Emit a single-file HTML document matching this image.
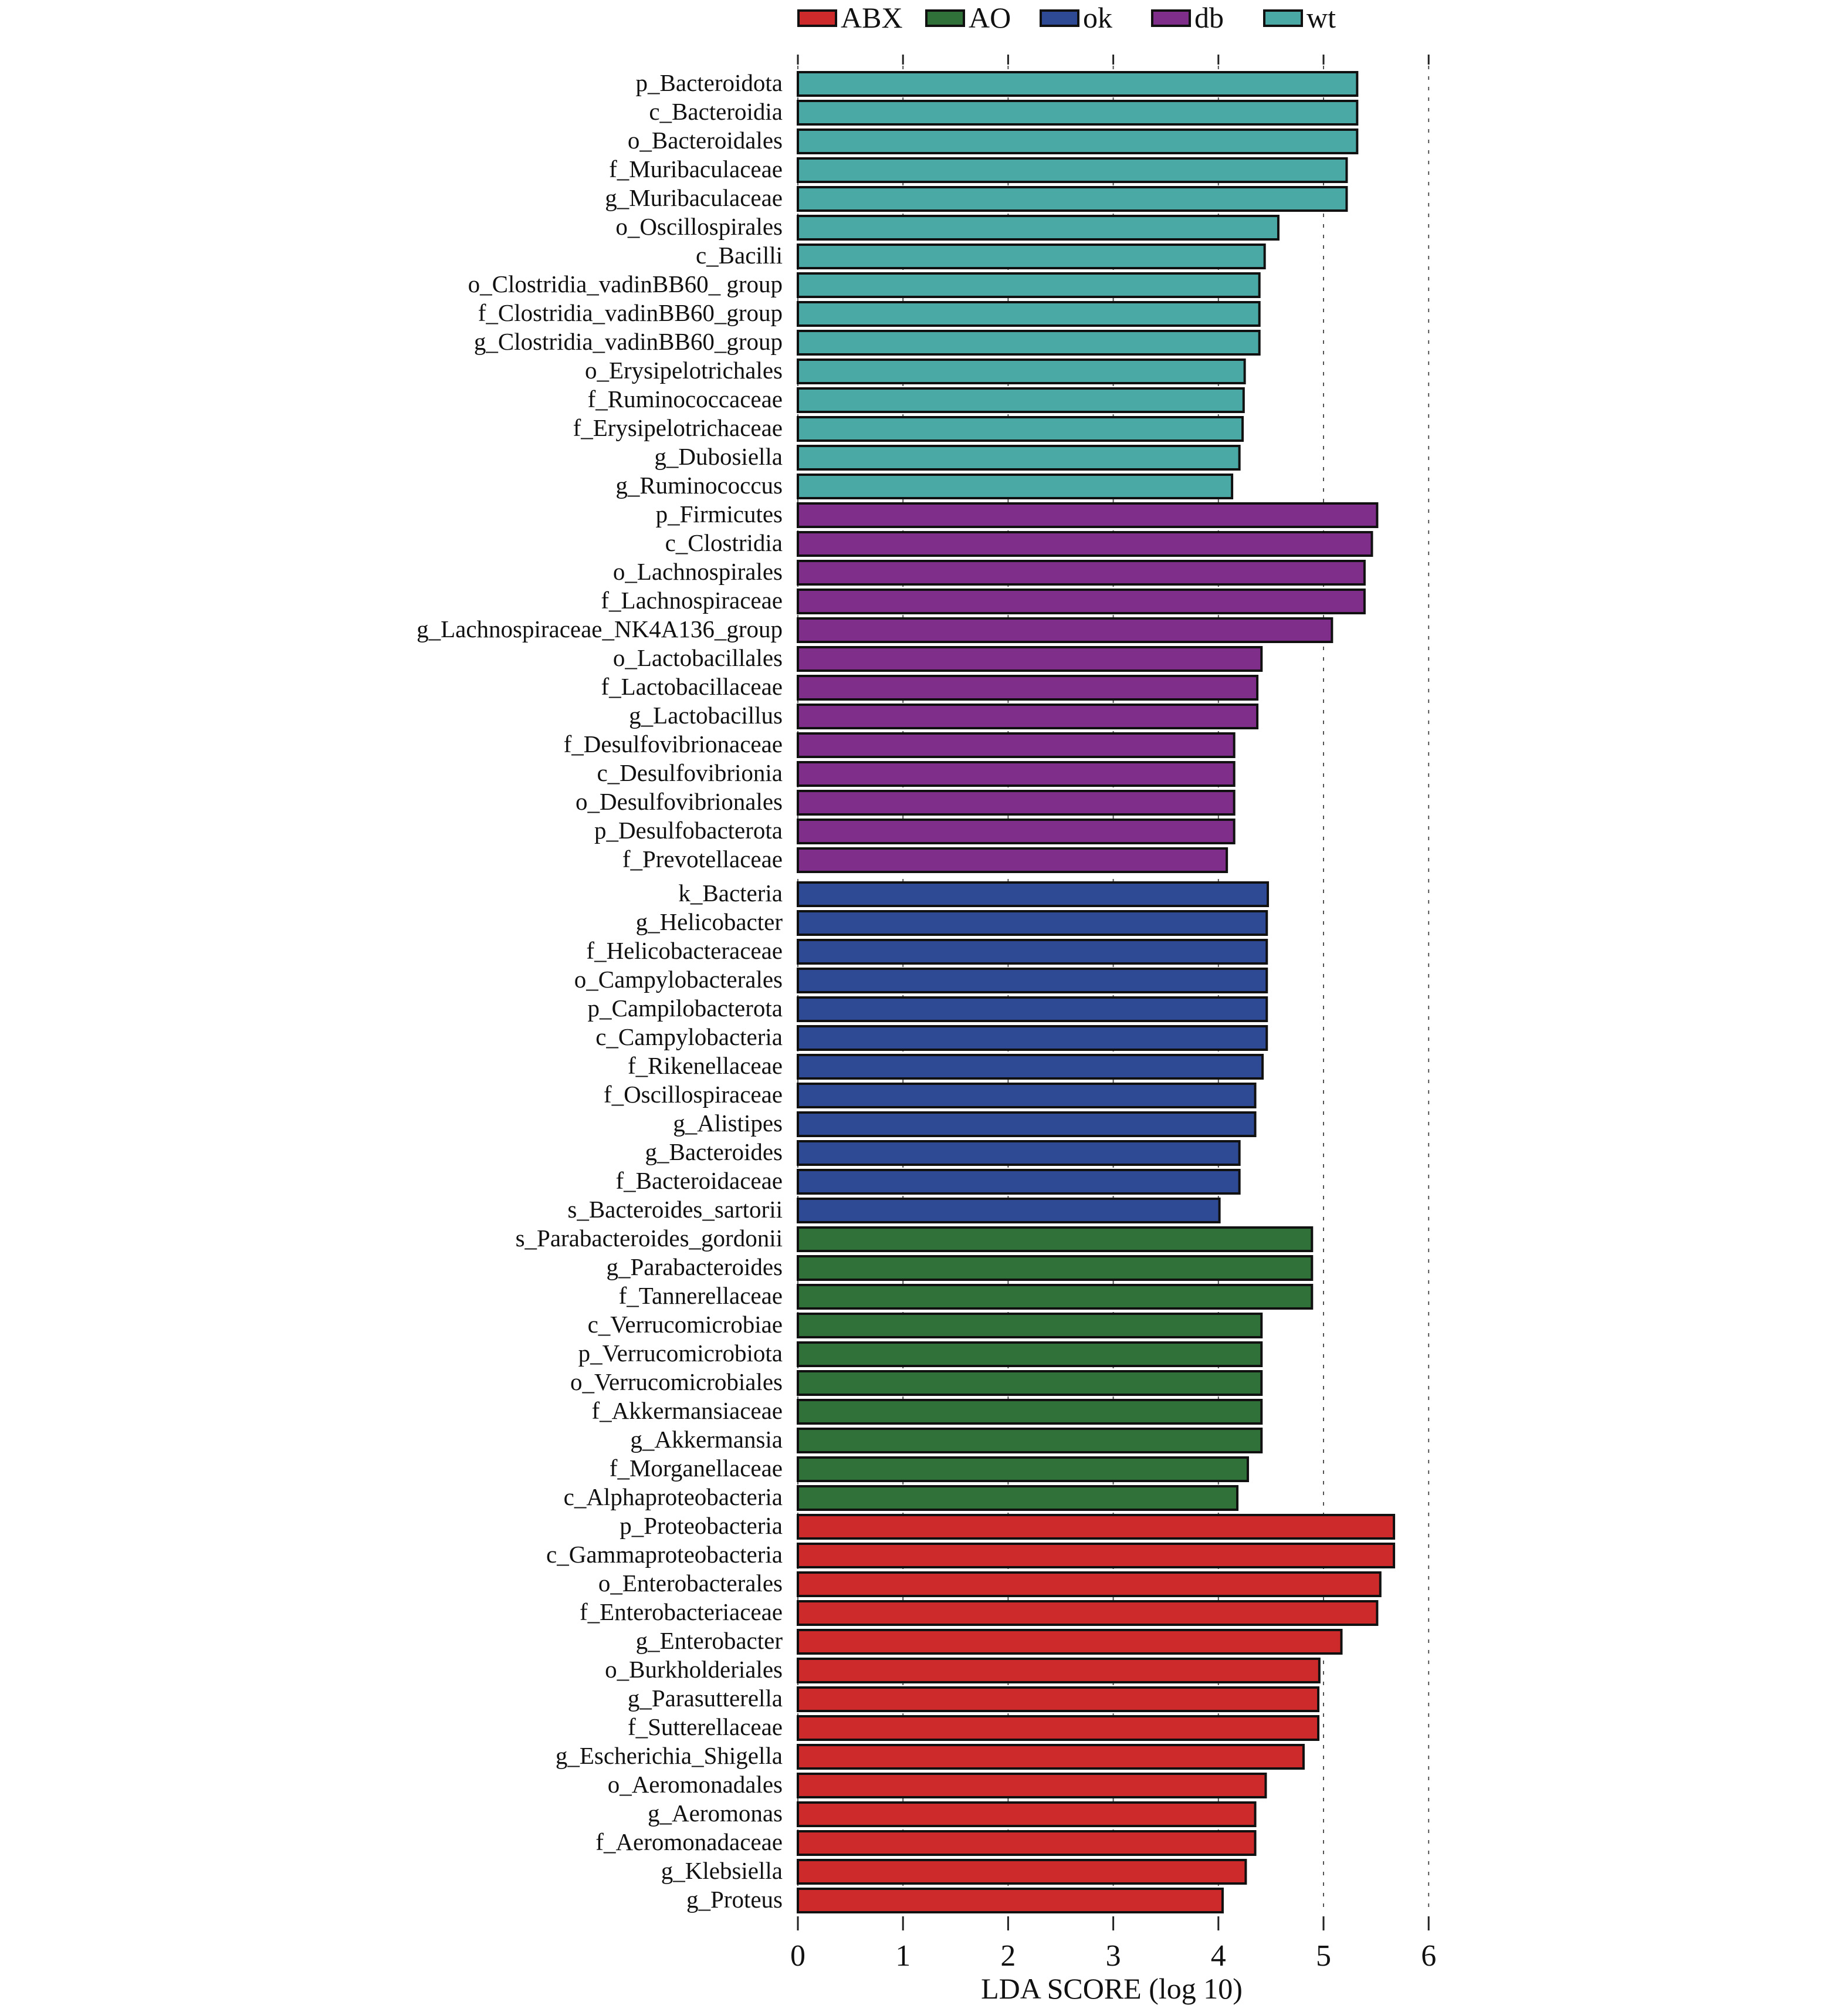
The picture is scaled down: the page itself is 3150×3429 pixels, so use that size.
<!DOCTYPE html>
<html><head><meta charset="utf-8"><style>
html,body{margin:0;padding:0;background:#fff;}
svg{display:block;}
text{font-family:"Liberation Serif",serif;fill:#111;}
</style></head><body>
<svg id="s" width="3150" height="3429" viewBox="0 0 3150 3429" xmlns="http://www.w3.org/2000/svg"></svg>
<script>
const NS="http://www.w3.org/2000/svg";const s=document.getElementById('s');
function el(t,a,txt){const e=document.createElementNS(NS,t);for(const k in a)e.setAttribute(k,a[k]);if(txt!==undefined)e.textContent=txt;s.appendChild(e);return e;}
const X0=1360,U=179.2;
const C={ABX:'#cc2a2b',AO:'#2f7139',ok:'#2e4a94',db:'#7f2f8a',wt:'#4aa9a4'};
const groups=[
['wt',[['p_Bacteroidota',5.32],['c_Bacteroidia',5.32],['o_Bacteroidales',5.32],['f_Muribaculaceae',5.22],['g_Muribaculaceae',5.22],['o_Oscillospirales',4.57],['c_Bacilli',4.44],['o_Clostridia_vadinBB60_ group',4.39],['f_Clostridia_vadinBB60_group',4.39],['g_Clostridia_vadinBB60_group',4.39],['o_Erysipelotrichales',4.25],['f_Ruminococcaceae',4.24],['f_Erysipelotrichaceae',4.23],['g_Dubosiella',4.20],['g_Ruminococcus',4.13]]],
['db',[['p_Firmicutes',5.51],['c_Clostridia',5.46],['o_Lachnospirales',5.39],['f_Lachnospiraceae',5.39],['g_Lachnospiraceae_NK4A136_group',5.08],['o_Lactobacillales',4.41],['f_Lactobacillaceae',4.37],['g_Lactobacillus',4.37],['f_Desulfovibrionaceae',4.15],['c_Desulfovibrionia',4.15],['o_Desulfovibrionales',4.15],['p_Desulfobacterota',4.15],['f_Prevotellaceae',4.08]]],
['ok',[['k_Bacteria',4.47],['g_Helicobacter',4.46],['f_Helicobacteraceae',4.46],['o_Campylobacterales',4.46],['p_Campilobacterota',4.46],['c_Campylobacteria',4.46],['f_Rikenellaceae',4.42],['f_Oscillospiraceae',4.35],['g_Alistipes',4.35],['g_Bacteroides',4.20],['f_Bacteroidaceae',4.20],['s_Bacteroides_sartorii',4.01]]],
['AO',[['s_Parabacteroides_gordonii',4.89],['g_Parabacteroides',4.89],['f_Tannerellaceae',4.89],['c_Verrucomicrobiae',4.41],['p_Verrucomicrobiota',4.41],['o_Verrucomicrobiales',4.41],['f_Akkermansiaceae',4.41],['g_Akkermansia',4.41],['f_Morganellaceae',4.28],['c_Alphaproteobacteria',4.18]]],
['ABX',[['p_Proteobacteria',5.67],['c_Gammaproteobacteria',5.67],['o_Enterobacterales',5.54],['f_Enterobacteriaceae',5.51],['g_Enterobacter',5.17],['o_Burkholderiales',4.96],['g_Parasutterella',4.95],['f_Sutterellaceae ',4.95],['g_Escherichia_Shigella',4.81],['o_Aeromonadales',4.45],['g_Aeromonas',4.35],['f_Aeromonadaceae',4.35],['g_Klebsiella',4.26],['g_Proteus',4.04]]]
];
for(let i=0;i<=6;i++){const x=X0+i*U;
el('line',{x1:x,y1:93,x2:x,y2:110,stroke:'#222','stroke-width':3});
el('line',{x1:x,y1:112,x2:x,y2:3262,stroke:'#555','stroke-width':2,'stroke-dasharray':'6,12'});
el('line',{x1:x,y1:3266,x2:x,y2:3290,stroke:'#222','stroke-width':3});
el('text',{x:x,y:3350,'font-size':52,'text-anchor':'middle'},String(i));}
let idx=0;
groups.forEach((g,gi)=>{g[1].forEach(r=>{let cy=143+idx*49+(gi>=2?9:0);
el('rect',{x:X0,y:cy-20,width:r[1]*U,height:40,fill:C[g[0]],stroke:'#111','stroke-width':4});
el('text',{x:1334,y:cy+12,'font-size':41,'text-anchor':'end'},r[0]);idx++;});});
el('text',{x:1895,y:3406,'font-size':50,'text-anchor':'middle'},'LDA SCORE (log 10)');
[['ABX',1361],['AO',1579],['ok',1774],['db',1964],['wt',2155]].forEach(l=>{
el('rect',{x:l[1],y:18,width:64,height:26,fill:C[l[0]],stroke:'#111','stroke-width':4});
el('text',{x:l[1]+72,y:47,'font-size':50},l[0]);});
</script>
</body></html>
